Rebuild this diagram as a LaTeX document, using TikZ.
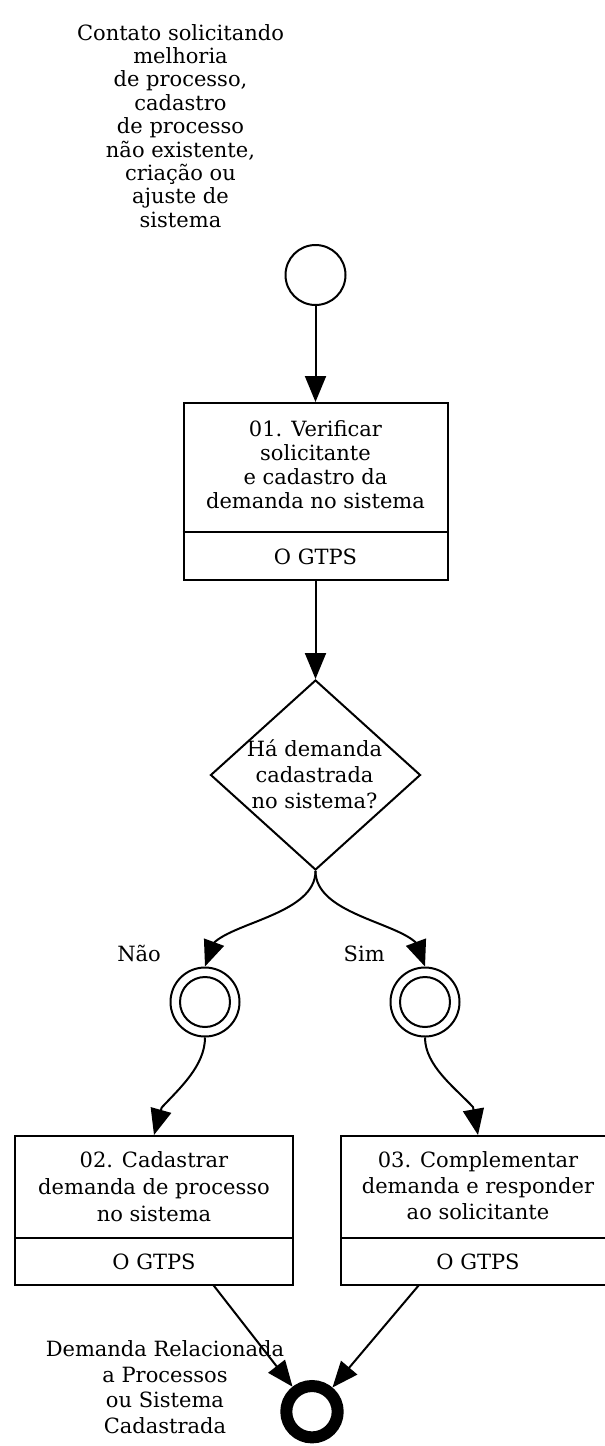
\documentclass[tikz,border=0pt]{standalone}
\usepackage{fontspec}
\setmainfont{DejaVu Serif}
\usetikzlibrary{arrows.meta,shapes.geometric}
\begin{document}
\begin{tikzpicture}[x=1pt,y=-1pt,
  every node/.style={inner sep=0pt},
  ln/.style={line width=2pt},
  arr/.style={ln,-{Triangle[length=26pt,width=21pt]}},
  txt/.style={align=center,font=\fontsize{21}{23.4}\selectfont},
  taskbox/.style={draw,ln,minimum width=#1,minimum height=149pt},
  startev/.style={circle,draw,ln,minimum size=60pt},
  midev/.style={circle,draw,ln,minimum size=#1},
  endev/.style={circle,draw,line width=12pt,minimum size=51.4pt}
]
\useasboundingbox (0,0) rectangle (605,1446);
\clip (0,0) rectangle (605,1446);

% top label and start event
\node[txt] (lab0) at (180.5,125.9) {Contato solicitando\\melhoria\\de processo,\\cadastro\\de processo\\não existente,\\criação ou\\ajuste de\\sistema};
\node[startev] (s) at (315.5,275) {};

% task 01
\node[draw,ln,minimum width=264pt,minimum height=177pt] (t1) at (315.5,491.5) {};
\coordinate (t1div) at (0,532);
\draw[ln] (t1.west |- t1div) -- (t1.east |- t1div);
\node[txt,font=\fontsize{21}{23.8}\selectfont] (t1txt) at (315.5,464.5) {01. Verificar\\solicitante\\e cadastro da\\demanda no sistema};
\node[txt] (t1role) at (315.5,557.3) {O GTPS};

% gateway
\node[diamond,draw,ln,minimum width=210pt,minimum height=190pt] (d) at (315.5,775) {};
\node[txt,font=\fontsize{21}{25.8}\selectfont] (dtxt) at (314.5,774.5) {Há demanda\\cadastrada\\no sistema?};

% intermediate events
\node[midev=69pt] (c1) at (205,1002) {};
\node[midev=50pt] (c1i) at (205,1002) {};
\node[midev=69pt] (c2) at (425,1002) {};
\node[midev=50pt] (c2i) at (425,1002) {};
\node[txt,anchor=base east] (lno) at (161,961) {Não};
\node[txt,anchor=base west] (lyes) at (343.5,961) {Sim};

% task 02
\node[taskbox=278pt] (t2) at (154,1210.5) {};
\coordinate (t2div) at (0,1237.5);
\draw[ln] (t2.west |- t2div) -- (t2.east |- t2div);
\node[txt,font=\fontsize{21}{27}\selectfont] (t2txt) at (154,1186.7) {02. Cadastrar\\demanda de processo\\no sistema};
\node[txt] (t2role) at (154,1262.3) {O GTPS};

% task 03
\node[taskbox=274pt] (t3) at (478,1210.5) {};
\coordinate (t3div) at (0,1237.5);
\draw[ln] (t3.west |- t3div) -- (t3.east |- t3div);
\node[txt,font=\fontsize{21}{26.2}\selectfont] (t3txt) at (478,1185.8) {03. Complementar\\demanda e responder\\ao solicitante};
\node[txt] (t3role) at (478,1262.3) {O GTPS};

% end event
\node[endev] (e) at (312,1411.7) {};
\node[txt,font=\fontsize{21}{25.5}\selectfont] (lab1) at (165,1387) {Demanda Relacionada\\a Processos\\ou Sistema\\Cadastrada};

% bend points where the arrowheads start
\coordinate (b1) at (213.7,943);
\coordinate (b2) at (416.3,943);
\coordinate (b3) at (161.7,1107.5);
\coordinate (b4) at (473,1107);
\coordinate (p2) at (213.3,1285);
\coordinate (p3) at (419,1285);

% connectors
\draw[arr] (s.south) -- (s.south |- t1.north);
\draw[arr] (t1.south) -- (d.north);
\draw[arr] (d.south) .. controls +(0,42) and +(21.3,-21) .. (b1) -- (c1.north);
\draw[arr] (d.south) .. controls +(0,42) and +(-21.3,-21) .. (b2) -- (c2.north);
\draw[arr] (c1.south) .. controls +(0,28) and +(18.3,-19.5) .. (b3) -- (t2.north);
\draw[arr] (c2.south) .. controls +(0,28) and +(-18.3,-19.5) .. (b4) -- (t3.north);
\draw[arr] (p2) -- (e);
\draw[arr] (p3) -- (e);
\end{tikzpicture}
\end{document}
